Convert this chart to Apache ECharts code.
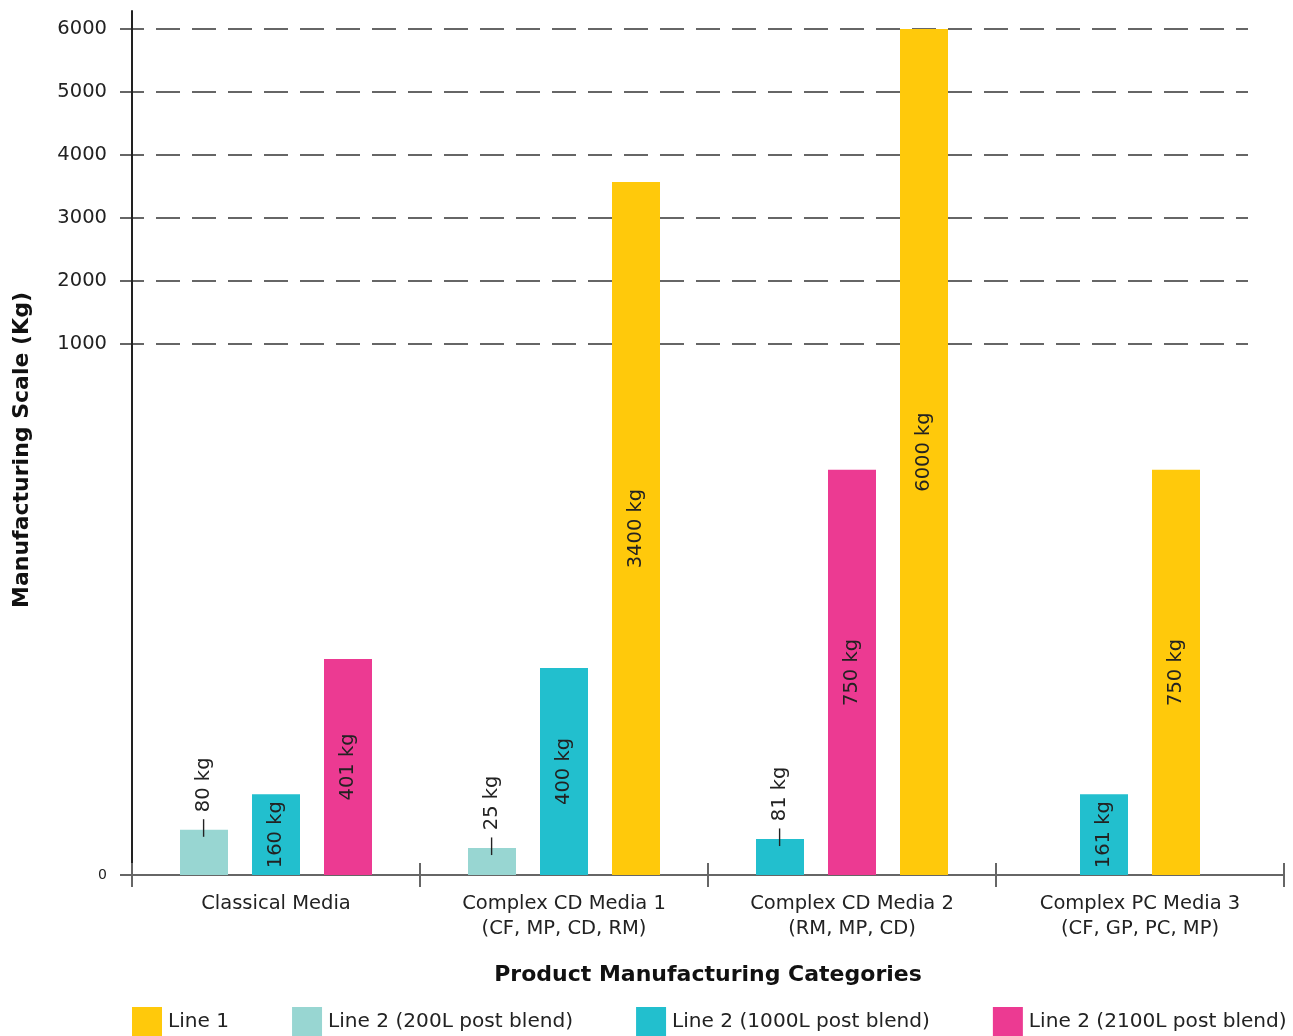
<!DOCTYPE html>
<html><head><meta charset="utf-8">
<script src="https://cdn.jsdelivr.net/npm/echarts@6/dist/echarts.min.js"></script>
<style>html,body{margin:0;padding:0;background:#fff}#c{width:1293px;height:1036px}</style>
</head><body><div id="c"></div>
<script>
// ---------------- data ----------------
const categories = [
  'Classical Media',
  'Complex CD Media 1\n(CF, MP, CD, RM)',
  'Complex CD Media 2\n(RM, MP, CD)',
  'Complex PC Media 3\n(CF, GP, PC, MP)'
];
const seriesNames = ['Line 2 (200L post blend)', 'Line 2 (1000L post blend)', 'Line 2 (2100L post blend)', 'Line 1'];
const legendOrder = ['Line 1', 'Line 2 (200L post blend)', 'Line 2 (1000L post blend)', 'Line 2 (2100L post blend)'];
// bar heights as read against the axis (kg)
const line2_200 = [85, 51, null, null];
const line2_1000 = [152, 390, 68, 152];
const line2_2100 = [407, null, 763, null];
const line1 = [null, 3570, 6000, 763];
// value labels printed on the bars (kg)
const line2_200Labels = [80, 25, null, null];
const line2_1000Labels = [160, 400, 81, 161];
const line2_2100Labels = [401, null, 750, null];
const line1Labels = [null, 3400, 6000, 750];
// tick labels
const lowTickLabels = [0];
const highTickLabels = [1000, 2000, 3000, 4000, 5000, 6000];

// ---------------- styling / scale ----------------
const colors = ['#98D6D2', '#22BFCE', '#EC3A92', '#FFC90B'];
const FONT = 'DejaVu Sans';
const TXT = '#222';
const BREAK = 1000;            // axis is broken at 1000 kg
const UPPER = 63 / 531;        // compression of the part above the break
const AXIS_TOP_KG = 6286;      // axis line reaches a bit above 6000
const f = v => v <= BREAK ? v : BREAK + (v - BREAK) * UPPER;
const SLOTS = 4;               // bar slots per category

const heights = [line2_200, line2_1000, line2_2100, line1];
const labels = [line2_200Labels, line2_1000Labels, line2_2100Labels, line1Labels];

// centre the present bars of each category
const seriesData = heights.map(() => []);
categories.forEach((c, ci) => {
  const present = heights.map((arr, si) => arr[ci] != null ? si : -1).filter(si => si >= 0);
  present.forEach((si, j) => {
    const x = ci * SLOTS + SLOTS / 2 - (present.length - 1) / 2 + j;
    const h = heights[si][ci];
    const small = h < 120;
    const item = { value: [x, f(h)], kg: labels[si][ci], small: small };
    if (small) item.label = { position: 'top', distance: -8, align: 'left', verticalAlign: 'middle' };
    seriesData[si].push(item);
  });
});

const series = seriesNames.map((name, si) => ({
  name: name,
  type: 'bar',
  xAxisIndex: 2,
  yAxisIndex: 0,
  barWidth: 48,
  barGap: '-100%',
  itemStyle: { color: colors[si] },
  label: {
    show: true, rotate: 90, position: 'inside', align: 'center', verticalAlign: 'middle',
    fontFamily: FONT, fontSize: 19.5, color: TXT,
    formatter: p => (p.data.small ? '\u2014 ' : '') + p.data.kg + ' kg'
  },
  data: seriesData[si]
}));

const chart = echarts.init(document.getElementById('c'), null, { renderer: 'canvas' });
chart.setOption({
  animation: false,
  backgroundColor: '#fff',
  textStyle: { fontFamily: FONT, color: TXT },
  color: colors,
  grid: [
    { left: 132, right: 9, top: 11, bottom: 161 },
    { left: 120, right: 45, top: 29, bottom: 692 }
  ],
  legend: {
    data: legendOrder,
    left: 132, top: 1007, padding: 0, width: 1400,
    itemWidth: 30, itemHeight: 30, itemGap: 63, icon: 'rect',
    textStyle: { fontFamily: FONT, fontSize: 20.1, color: TXT, padding: [10, 0, 0, 1] }
  },
  xAxis: [
    {
      type: 'category', gridIndex: 0, position: 'bottom', data: categories,
      axisLine: { show: true, lineStyle: { color: '#666', width: 2 } },
      axisTick: { show: true, interval: 0, length: 12, lineStyle: { color: '#666', width: 2 } },
      axisLabel: { fontFamily: FONT, fontSize: 19.5, color: TXT, lineHeight: 25, margin: 16 },
      name: 'Product Manufacturing Categories', nameLocation: 'middle', nameGap: 89,
      nameTextStyle: { fontFamily: FONT, fontSize: 22, fontWeight: 'bold', color: '#111' }
    },
    {
      type: 'category', gridIndex: 0, position: 'bottom', data: categories,
      axisLine: { show: false },
      axisTick: { show: true, interval: 0, inside: true, length: 12, lineStyle: { color: '#666', width: 2 } },
      axisLabel: { show: false }
    },
    { type: 'value', gridIndex: 0, position: 'bottom', min: 0, max: categories.length * SLOTS, show: false },
    { type: 'value', gridIndex: 1, min: 0, max: 1, show: false }
  ],
  yAxis: [
    {
      type: 'value', gridIndex: 0, min: 0, max: f(AXIS_TOP_KG),
      axisLine: { show: true, lineStyle: { color: '#222', width: 2 } },
      axisTick: { show: true, length: 12, customValues: lowTickLabels.map(f), lineStyle: { color: '#666', width: 2 } },
      axisLabel: {
        customValues: lowTickLabels.map(f), margin: 25, fontFamily: FONT, fontSize: 14, color: TXT,
        formatter: v => lowTickLabels.includes(v) ? String(v) : ''
      },
      splitLine: { show: false },
      name: 'Manufacturing Scale (Kg)', nameLocation: 'middle', nameGap: 99,
      nameTextStyle: { fontFamily: FONT, fontSize: 22, fontWeight: 'bold', color: '#111', padding: [0, 14, 0, 0] }
    },
    {
      type: 'value', gridIndex: 1, min: highTickLabels[0], max: highTickLabels[highTickLabels.length - 1],
      interval: highTickLabels[1] - highTickLabels[0],
      axisLine: { show: false }, axisTick: { show: false },
      axisLabel: { margin: 13, fontFamily: FONT, fontSize: 19.5, color: TXT, formatter: v => String(v) },
      splitLine: { show: true, lineStyle: { color: '#666', width: 2, type: [24, 12] } }
    }
  ],
  series: series
});
</script>
</body></html>
